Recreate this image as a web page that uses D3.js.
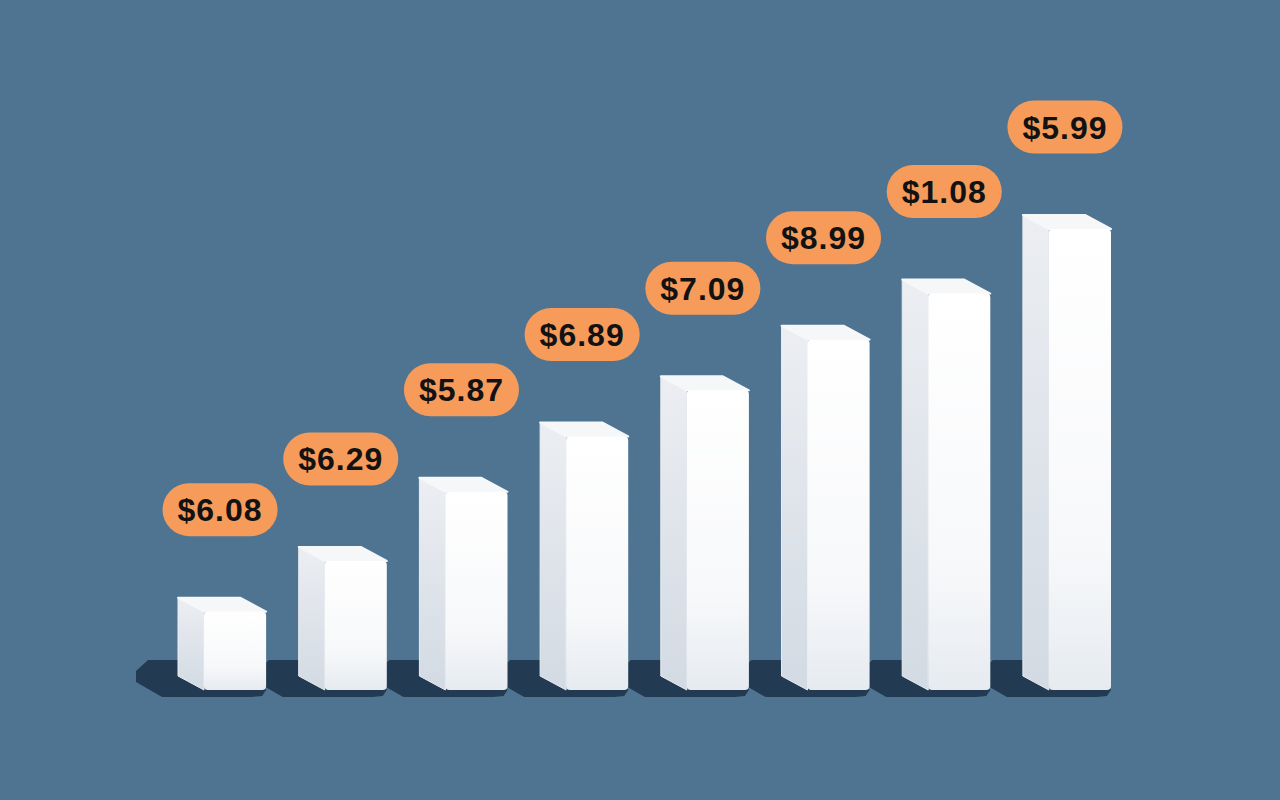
<!DOCTYPE html>
<html>
<head>
    <meta charset="utf-8">
    <title>Price bars</title>
    <script src="https://d3js.org/d3.v7.min.js"></script>
    <style>
        html, body {
            margin: 0;
            padding: 0;
            background: #4f7491;
        }
        text.priceText {
            font-family: "Liberation Sans", Arial, sans-serif;
            font-weight: bold;
            font-size: 32px;
            letter-spacing: 1px;
            fill: #121212;
        }
    </style>
</head>
<body>
<script>

    // bar heights (relative units, tallest = 100)
    var categories = ["b1", "b2", "b3", "b4", "b5", "b6", "b7", "b8"];
    var barValues = [17, 28, 43, 55, 65, 76, 86, 100];
    // the price tags printed above each bar
    var priceLabels = ["$6.08", "$6.29", "$5.87", "$6.89", "$7.09", "$8.99", "$1.08", "$5.99"];

    var width = 1280, height = 800;
    var baseY = 690;
    var sideW = 26, sideH = 14;   // depth of the fake 3d side

    var svg = d3.select("body").append("svg")
        .attr("width", width)
        .attr("height", height);

    svg.append("rect")
        .attr("width", width)
        .attr("height", height)
        .attr("fill", "#4f7491");

    var x = d3.scaleBand()
        .domain(categories)
        .range([178, 1111])
        .paddingInner(0.27)
        .paddingOuter(0);

    var y = d3.scaleLinear()
        .domain([0, 100])
        .range([baseY, 229]);

    // gradients
    var defs = svg.append("defs");
    var gFront = defs.append("linearGradient").attr("id", "gFront")
        .attr("x1", 0).attr("y1", 0).attr("x2", 0).attr("y2", 1);
    gFront.append("stop").attr("offset", "0%").attr("stop-color", "#ffffff");
    gFront.append("stop").attr("offset", "70%").attr("stop-color", "#f7f8fa");
    gFront.append("stop").attr("offset", "100%").attr("stop-color", "#e6ebf0");
    var gSide = defs.append("linearGradient").attr("id", "gSide")
        .attr("x1", 0).attr("y1", 0).attr("x2", 0).attr("y2", 1);
    gSide.append("stop").attr("offset", "0%").attr("stop-color", "#eceef2");
    gSide.append("stop").attr("offset", "100%").attr("stop-color", "#d2dae3");

    var data = categories.map(function (c, i) {
        return {cat: c, value: barValues[i], label: priceLabels[i]};
    });

    // shadows first so they sit under every bar
    svg.append("g").attr("class", "shadows")
        .selectAll("path")
        .data(data).enter()
        .append("path")
        .attr("fill", "#223b52")
        .attr("d", function (d) {
            var L = x(d.cat), R = L + x.bandwidth();
            return d3.line()([
                [L - 42, 671], [L - 30, 660], [R - 12, 660], [R, baseY],
                [R - 4, 696], [R - 14, 697], [L - 16, 697], [L - 42, 682]
            ]) + "Z";
        });

    var bars = svg.append("g").attr("class", "bars")
        .selectAll("g")
        .data(data).enter()
        .append("g");

    // left side face
    bars.append("path")
        .attr("fill", "url(#gSide)")
        .attr("stroke", "#e9ecf0")
        .attr("stroke-width", 1)
        .attr("stroke-linejoin", "round")
        .attr("d", function (d) {
            var L = x(d.cat), T = y(d.value);
            return d3.line()([
                [L, T - sideH], [L + sideW, T], [L + sideW, baseY], [L, baseY - sideH]
            ]) + "Z";
        });

    // top face
    bars.append("path")
        .attr("fill", "#f6f7f9")
        .attr("stroke", "#f6f7f9")
        .attr("stroke-width", 2)
        .attr("stroke-linejoin", "round")
        .attr("d", function (d) {
            var L = x(d.cat), R = L + x.bandwidth(), T = y(d.value);
            return d3.line()([
                [L, T - sideH], [R - sideW, T - sideH], [R, T], [L + sideW, T]
            ]) + "Z";
        });

    // front face
    bars.append("rect")
        .attr("x", function (d) { return x(d.cat) + sideW; })
        .attr("y", function (d) { return y(d.value); })
        .attr("width", x.bandwidth() - sideW)
        .attr("height", function (d) { return baseY - y(d.value); })
        .attr("rx", 4)
        .attr("fill", "url(#gFront)");

    // price tags
    var tags = svg.append("g").attr("class", "tags")
        .selectAll("g")
        .data(data).enter()
        .append("g")
        .attr("transform", function (d) {
            return "translate(" + (x(d.cat) + x.bandwidth() / 2 - 2) + "," + (y(d.value) - sideH - 88) + ")";
        });

    tags.append("rect")
        .attr("class", "pill")
        .attr("fill", "#f79b5b");

    tags.append("text")
        .attr("class", "priceText")
        .attr("text-anchor", "middle")
        .attr("dy", "0.36em")
        .text(function (d) { return d.label; });

    tags.each(function () {
        var g = d3.select(this);
        var bb = g.select("text").node().getBBox();
        var w = bb.width + 30, h = 53;
        g.select("rect")
            .attr("x", -w / 2)
            .attr("y", -h / 2)
            .attr("width", w)
            .attr("height", h)
            .attr("rx", h / 2);
    });

</script>
</body>
</html>
